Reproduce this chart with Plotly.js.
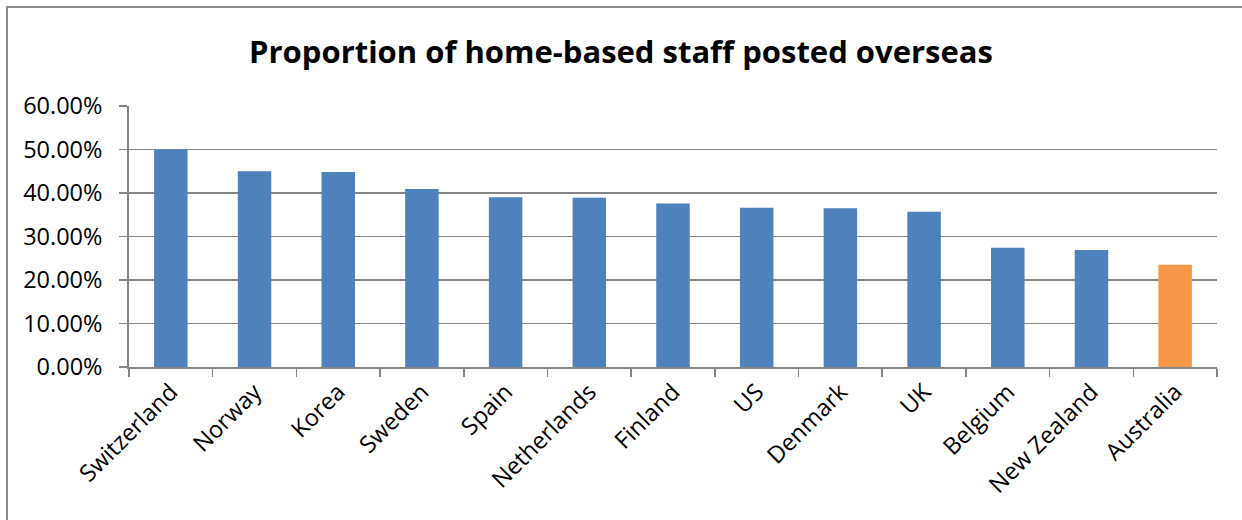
<!DOCTYPE html>
<html>
<head>
<meta charset="utf-8">
<script src="https://cdn.plot.ly/plotly-3.0.1.min.js"></script>
<style>
  html, body { margin: 0; padding: 0; background: #fff; }
  #wrap { position: relative; width: 1242px; height: 520px; }
  #chart { position: absolute; left: 0; top: 0; width: 1242px; height: 520px; }
  #frame { position: absolute; left: 6px; top: 6px; width: 1236px; height: 514px;
           border-left: 2px solid #8a8a8a; border-top: 2px solid #8a8a8a; pointer-events: none; }
</style>
</head>
<body>
<div id="wrap">
  <div id="chart"></div>
  <div id="frame"></div>
</div>
<script>
const countries = ["Switzerland", "Norway", "Korea", "Sweden", "Spain", "Netherlands",
                   "Finland", "US", "Denmark", "UK", "Belgium", "New Zealand", "Australia"];
const shareOverseas = [0.500, 0.450, 0.448, 0.409, 0.390, 0.389, 0.376, 0.366, 0.365,
                       0.357, 0.274, 0.269, 0.235];
const highlighted = "Australia";

const barColors = countries.map(c => c === highlighted ? "#f79646" : "#4f81bd");
const fontFam = "'Open Sans', 'Liberation Sans', sans-serif";

const trace = {
  type: "bar",
  x: countries,
  y: shareOverseas,
  marker: { color: barColors, line: { width: 0 } },
  hoverinfo: "x+y"
};

const layout = {
  width: 1242,
  height: 520,
  margin: { l: 129, r: 25, t: 106, b: 153 },
  paper_bgcolor: "#ffffff",
  plot_bgcolor: "#ffffff",
  showlegend: false,
  bargap: 0.6,
  title: {
    text: "<b>Proportion of home-based staff posted overseas</b>",
    font: { family: fontFam, size: 31, color: "#000000" },
    x: 0.5, xanchor: "center",
    y: 0.9, yanchor: "middle",
    yref: "container"
  },
  xaxis: {
    type: "category",
    tickangle: -45,
    tickson: "boundaries",
    ticks: "outside",
    ticklen: 8,
    tickwidth: 1.5,
    tickcolor: "#858585",
    showline: true,
    linecolor: "#858585",
    linewidth: 1.8,
    showgrid: false,
    tickfont: { family: fontFam, size: 23.5, color: "#000000" }
  },
  yaxis: {
    range: [0, 0.6],
    dtick: 0.1,
    tick0: 0,
    tickformat: ".2%",
    ticks: "outside",
    ticklen: 8,
    tickwidth: 1.5,
    tickcolor: "#858585",
    showline: true,
    linecolor: "#858585",
    linewidth: 1.8,
    showgrid: true,
    gridcolor: "#858585",
    gridwidth: 1.8,
    zeroline: false,
    ticklabelstandoff: 12,
    tickfont: { family: fontFam, size: 23.5, color: "#000000" }
  }
};

Plotly.newPlot("chart", [trace], layout, { displayModeBar: false, staticPlot: true });
</script>
</body>
</html>
